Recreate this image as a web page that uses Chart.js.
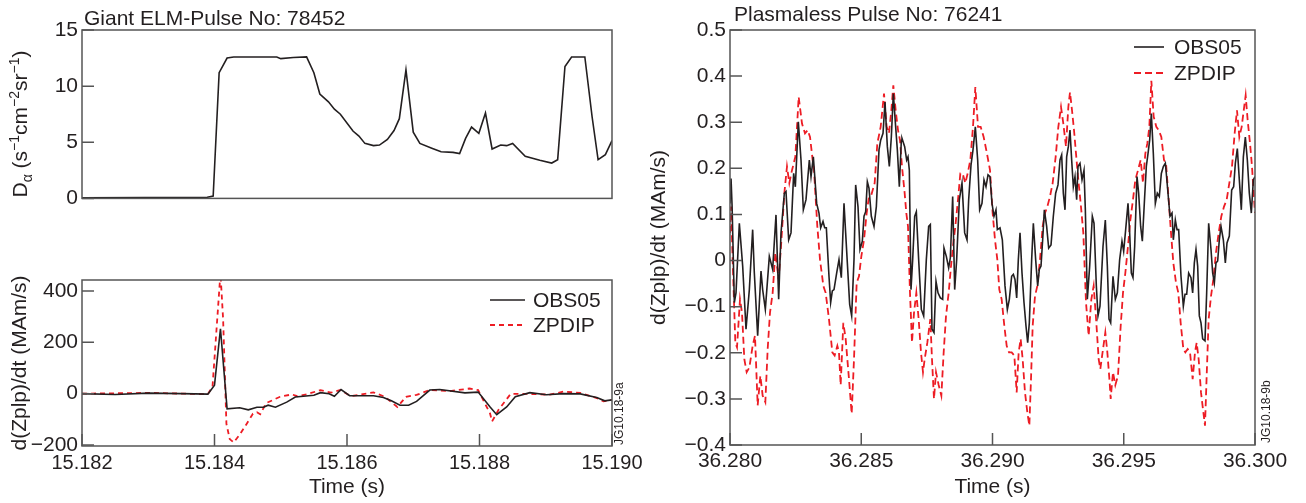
<!DOCTYPE html>
<html>
<head>
<meta charset="utf-8">
<script src="https://cdn.jsdelivr.net/npm/chart.js@4/dist/chart.umd.min.js"></script>
<style>
  html, body { margin: 0; padding: 0; background: #fff; }
  #page { position: relative; width: 1306px; height: 503px; overflow: hidden; }
  canvas { position: absolute; }
</style>
</head>
<body>
<div id="page">
  <canvas id="dalpha" width="640" height="215" style="left:0;top:0"></canvas>
  <canvas id="zplpLeft" width="660" height="253" style="left:0;top:250px"></canvas>
  <canvas id="zplpRight" width="666" height="503" style="left:640px;top:0"></canvas>
</div>
<script>
// --- Giant ELM, pulse 78452: D-alpha (top left)
const dalphaTime = [15.182, 15.18389, 15.18398, 15.18407, 15.18419, 15.18429, 15.18494, 15.185, 15.18519, 15.18539,
  15.1855, 15.18559, 15.18572, 15.18581, 15.1859, 15.18609, 15.18618, 15.18627, 15.1864, 15.18649,
  15.18661, 15.18671, 15.18679, 15.18689, 15.187, 15.1871, 15.18729, 15.18742, 15.1876, 15.1877,
  15.18779, 15.18788, 15.18799, 15.18809, 15.18819, 15.18832, 15.18841, 15.1885, 15.18869, 15.18891,
  15.18909, 15.18918, 15.18929, 15.18939, 15.18959, 15.1897, 15.18979, 15.1899, 15.19];
const dalphaValue = [0.05, 0.1, 0.2, 11.2, 12.5, 12.6, 12.6, 12.45, 12.55, 12.6,
  11.2, 9.3, 8.6, 7.95, 7.5, 6.0, 5.55, 4.9, 4.7, 4.75,
  5.25, 6.05, 7.1, 11.45, 5.9, 4.9, 4.45, 4.15, 4.1, 4.0,
  5.35, 6.35, 5.8, 7.6, 4.4, 4.75, 4.7, 4.9, 3.75, 3.4,
  3.15, 3.45, 11.75, 12.6, 12.6, 7.25, 3.45, 3.9, 5.15];

// --- Giant ELM: d(Zplp)/dt (bottom left)
const leftObsTime = [15.182, 15.1825, 15.183, 15.1835, 15.1839, 15.184, 15.18409, 15.18419, 15.18438, 15.18451,
  15.18464, 15.18474, 15.18481, 15.18492, 15.18509, 15.18522, 15.1855, 15.1856, 15.18573, 15.18581,
  15.18591, 15.18604, 15.1864, 15.18655, 15.18667, 15.1868, 15.18693, 15.18705, 15.18725, 15.1874,
  15.18778, 15.18798, 15.18816, 15.18826, 15.18841, 15.18854, 15.18876, 15.18901, 15.18927, 15.18952,
  15.18977, 15.18989, 15.19];
const leftObsValue = [0, -3, 2, 0, -2, 33, 253, -59, -55, -63,
  -53, -53, -45, -53, -33, -13, -6, 4, 0, -10,
  16, -8, -8, -15, -28, -45, -45, -30, 14, 16,
  3, 6, -52, -82, -52, -12, 4, -4, 0, -1,
  -15, -28, -24];
const leftZpdTime = [15.182, 15.183, 15.1839, 15.18397, 15.18409, 15.18413, 15.18418, 15.18423, 15.18429, 15.18438,
  15.18448, 15.18458, 15.18464, 15.18469, 15.18478, 15.18499, 15.18517, 15.18525, 15.1854, 15.1856,
  15.18576, 15.1859, 15.18606, 15.1864, 15.18657, 15.18676, 15.18689, 15.18705, 15.18725, 15.18755,
  15.18785, 15.18798, 15.18816, 15.18819, 15.18829, 15.18847, 15.18876, 15.18906, 15.18927, 15.18952,
  15.18977, 15.18987, 15.19];
const leftZpdValue = [0, 3, -2, 27, 470, 290, -118, -177, -190, -160,
  -120, -78, -72, -80, -37, -12, -3, -10, -2, 14,
  4, 14, -10, 5, -12, -52, -12, -5, 14, 10,
  20, 14, -78, -108, -62, -1, -1, -4, 8, 3,
  -17, -30, -24];

// --- Plasmaless pulse 76241 (right), time in ms after 36.280 s
const rightObsMs = [
  0, 0.04, 0.08, 0.165, 0.229, 0.356, 0.483, 0.61, 0.737, 0.863, 0.927, 1.054, 1.181, 1.244, 1.346, 1.498, 1.625, 1.752, 1.854, 1.943, 2.07, 2.133, 2.235, 2.324, 2.425, 2.489, 2.603, 2.705, 2.794, 2.895, 3.022, 3.086, 3.175,
  3.302, 3.39, 3.454, 3.543, 3.606, 3.67, 3.771, 3.835, 3.898, 3.962, 4.063, 4.152, 4.241, 4.343, 4.406, 4.47, 4.559, 4.635, 4.724, 4.787, 4.876, 4.952, 5.041, 5.105, 5.168, 5.232, 5.295, 5.384, 5.486, 5.575, 5.676, 5.74, 5.829, 5.905, 5.994, 6.07, 6.146, 6.222, 6.311, 6.375, 6.451, 6.527,
  6.552, 6.654, 6.73, 6.781, 6.832, 6.895, 6.959, 7.035, 7.098, 7.187, 7.289, 7.378, 7.479, 7.568, 7.632, 7.695, 7.771, 7.848, 7.924, 8.013, 8.102, 8.152, 8.241, 8.33, 8.394, 8.483, 8.559, 8.635, 8.737, 8.838, 8.94, 9.029, 9.092, 9.181, 9.257, 9.346, 9.435, 9.511, 9.6, 9.676, 9.752, 9.829,
  9.905, 9.981, 10.057, 10.133, 10.184, 10.286, 10.375, 10.476, 10.565, 10.641, 10.73, 10.794, 10.857, 10.921, 10.984, 11.048, 11.124, 11.2, 11.276, 11.34, 11.403, 11.492, 11.556, 11.644, 11.721, 11.784, 11.848, 11.911, 11.975, 12.063, 12.14, 12.229, 12.317, 12.406, 12.495, 12.571, 12.635, 12.698, 12.762, 12.825, 12.889, 12.952, 13.016, 13.079, 13.143, 13.206,
  13.257, 13.333, 13.41, 13.486, 13.537, 13.613, 13.702, 13.803, 13.867, 13.956, 14.019, 14.095, 14.21, 14.298, 14.375, 14.438, 14.502, 14.59, 14.679, 14.756, 14.844, 14.933, 14.997, 15.073, 15.162, 15.225, 15.289, 15.352, 15.416, 15.505, 15.568, 15.644, 15.708, 15.797, 15.86, 15.924, 15.987, 16.051, 16.127, 16.203, 16.279, 16.355, 16.432, 16.508, 16.584,
  16.61, 16.686, 16.762, 16.838, 16.889, 16.965, 17.029, 17.092, 17.181, 17.27, 17.333, 17.397, 17.473, 17.562, 17.625, 17.689, 17.752, 17.816, 17.879, 17.943, 18.006, 18.095, 18.159, 18.235, 18.324, 18.387, 18.451, 18.514, 18.578, 18.641, 18.705, 18.794, 18.87, 18.933, 19.022, 19.111, 19.187, 19.251, 19.327, 19.403, 19.479, 19.556, 19.632, 19.708, 19.784, 19.86, 19.937, 20];
const rightObsValue = [
  0.124, 0.178, 0.117, -0.091, -0.07, 0.081, -0.012, -0.149, -0.063, 0.067, -0.027, -0.163, -0.023, -0.063, -0.106, 0.009, -0.019, 0.099, -0.084, 0.06, 0.146, 0.15, 0.045, 0.06, 0.189, 0.16, 0.301, 0.218, 0.11, 0.132, 0.218, 0.182, 0.225,
  0.124, 0.103, 0.071, 0.085, 0.071, 0.071, -0.034, -0.091, -0.066, -0.063, -0.027, 0.002, -0.037, 0.124, 0.06, -0.005, -0.095, -0.12, 0.002, 0.164, 0.117, 0.024, 0.042, 0.096, 0.106, 0.171, 0.157, 0.096, 0.074, 0.117, 0.24, 0.261, 0.276, 0.344, 0.247, 0.204, 0.268, 0.362, 0.29, 0.24, 0.16, 0.261,
  0.265, 0.247, 0.218, 0.225, 0.196, -0.063, 0.002, 0.096, 0.106, 0.002, -0.106, -0.12, 0.002, 0.074, 0.078, -0.149, -0.156, -0.045, -0.07, -0.081, -0.084, 0.027, 0.009, -0.016, 0.006, 0.139, -0.063, 0.002, 0.132, 0.168, 0.06, 0.045, 0.132, 0.207, 0.24, 0.29, 0.218, 0.11, 0.124, 0.175, 0.16, 0.186,
  0.182, 0.124, 0.096, 0.11, 0.067, 0.071, 0.045, -0.055, -0.106, -0.084, -0.034, -0.03, -0.041, -0.081, 0.002, 0.06, -0.027, -0.091, -0.142, -0.178, -0.135, 0.002, 0.081, 0.002, -0.055, -0.019, -0.012, 0.045, 0.11, 0.074, 0.027, 0.034, 0.096, 0.146, 0.164, 0.218, 0.229, 0.146, 0.11, 0.225, 0.247, 0.283, 0.218, 0.16, 0.182, 0.132,
  0.204, 0.211, 0.175, 0.196, 0.11, -0.084, -0.012, 0.096, 0.081, -0.055, -0.12, -0.099, 0.031, 0.088, -0.012, -0.127, -0.135, -0.034, -0.084, -0.07, 0.002, 0.042, 0.02, 0.067, 0.124, 0.06, -0.027, -0.037, 0.031, 0.182, 0.146, 0.074, 0.042, 0.139, 0.204, 0.232, 0.261, 0.319, 0.232, 0.124, 0.146, 0.139, 0.189, 0.204, 0.211,
  0.196, 0.146, 0.096, 0.103, 0.045, 0.088, 0.067, 0.067, -0.034, -0.099, -0.073, -0.073, -0.027, -0.037, -0.07, -0.005, 0.024, -0.012, -0.12, -0.135, -0.17, -0.174, -0.07, 0.081, 0.024, -0.027, -0.048, -0.005, -0.001, 0.045, 0.074, 0.045, -0.005, 0.038, 0.053, 0.153, 0.16, 0.211, 0.243, 0.175, 0.11, 0.225, 0.268, 0.218, 0.146, 0.103, 0.175, 0.182];
const rightZpdMs = [
  0, 0.04, 0.102, 0.203, 0.267, 0.381, 0.457, 0.546, 0.635, 0.737, 0.863, 0.952, 1.054, 1.156, 1.244, 1.346, 1.435, 1.524, 1.625, 1.727, 1.854, 1.943, 2.07, 2.171, 2.26, 2.362, 2.489, 2.616, 2.743, 2.857, 2.959, 3.048, 3.149,
  3.2, 3.327, 3.429, 3.556, 3.644, 3.771, 3.898, 3.987, 4.089, 4.152, 4.216, 4.317, 4.406, 4.533, 4.635, 4.724, 4.825, 4.914, 5.003, 5.105, 5.206, 5.295, 5.384, 5.511, 5.613, 5.74, 5.867, 5.968, 6.057, 6.146, 6.222, 6.311, 6.4, 6.476,
  6.552, 6.654, 6.717, 6.781, 6.857, 6.933, 7.01, 7.098, 7.187, 7.276, 7.352, 7.416, 7.517, 7.632, 7.695, 7.771, 7.848, 7.949, 8.051, 8.14, 8.229, 8.33, 8.419, 8.495, 8.584, 8.686, 8.775, 8.863, 8.965, 9.054, 9.156, 9.257, 9.346, 9.448, 9.549, 9.663, 9.79,
  9.905, 10.006, 10.095, 10.184, 10.26, 10.349, 10.451, 10.54, 10.629, 10.73, 10.832, 10.921, 10.997, 11.073, 11.149, 11.238, 11.327, 11.403, 11.467, 11.53, 11.619, 11.708, 11.81, 11.911, 12, 12.089, 12.19, 12.292, 12.406, 12.508, 12.61, 12.698, 12.8, 12.889, 12.952, 13.029, 13.105, 13.181,
  13.257, 13.359, 13.46, 13.562, 13.663, 13.765, 13.854, 13.956, 14.044, 14.108, 14.21, 14.298, 14.375, 14.463, 14.502, 14.59, 14.679, 14.781, 14.883, 14.971, 15.06, 15.162, 15.251, 15.352, 15.441, 15.543, 15.644, 15.733, 15.822, 15.898, 15.975, 16.051, 16.14, 16.241, 16.33, 16.432, 16.533,
  16.61, 16.711, 16.8, 16.889, 16.99, 17.079, 17.168, 17.27, 17.346, 17.435, 17.524, 17.625, 17.714, 17.778, 17.854, 17.943, 18.032, 18.095, 18.159, 18.235, 18.324, 18.413, 18.514, 18.616, 18.717, 18.819, 18.921, 19.022, 19.124, 19.225, 19.314, 19.403, 19.492, 19.556, 19.644, 19.721, 19.81, 19.886, 19.949, 20];
const rightZpdValue = [
  0.06, 0.117, 0, -0.178, -0.188, -0.084, -0.113, -0.214, -0.242, -0.232, -0.185, -0.163, -0.314, -0.25, -0.293, -0.307, -0.192, -0.113, -0.07, 0.017, -0.041, 0.031, 0.146, 0.204, 0.168, 0.196, 0.225, 0.355, 0.297, 0.276, 0.283, 0.268, 0.218,
  0.196, 0.074, 0.002, -0.055, -0.07, -0.127, -0.199, -0.206, -0.185, -0.199, -0.27, -0.135, -0.17, -0.257, -0.332, -0.214, -0.048, -0.034, 0.009, 0.045, 0.103, 0.139, 0.142, 0.168, 0.254, 0.29, 0.362, 0.29, 0.276, 0.326, 0.38, 0.326, 0.283, 0.261,
  0.204, 0.146, 0.103, 0.074, -0.07, -0.178, -0.113, -0.07, -0.127, -0.199, -0.242, -0.214, -0.178, -0.127, -0.214, -0.3, -0.242, -0.27, -0.293, -0.199, -0.12, -0.07, -0.012, 0.031, 0.074, 0.132, 0.189, 0.189, 0.168, 0.189, 0.218, 0.29, 0.376, 0.29, 0.29, 0.268, 0.232,
  0.196, 0.103, 0.045, 0.002, -0.063, -0.084, -0.142, -0.185, -0.199, -0.199, -0.206, -0.286, -0.199, -0.17, -0.214, -0.286, -0.329, -0.358, -0.257, -0.142, -0.077, -0.055, 0.002, 0.074, 0.103, 0.117, 0.139, 0.168, 0.225, 0.29, 0.333, 0.297, 0.247, 0.333, 0.365, 0.326, 0.283, 0.232,
  0.182, 0.124, 0.06, -0.091, -0.163, -0.084, -0.055, -0.135, -0.214, -0.235, -0.192, -0.156, -0.199, -0.264, -0.3, -0.242, -0.27, -0.25, -0.142, -0.07, -0.027, 0.031, 0.088, 0.132, 0.175, 0.196, 0.218, 0.168, 0.232, 0.254, 0.29, 0.39, 0.312, 0.29, 0.283, 0.268, 0.218,
  0.211, 0.132, 0.06, -0.005, -0.048, -0.07, -0.135, -0.192, -0.199, -0.192, -0.199, -0.257, -0.199, -0.178, -0.214, -0.286, -0.329, -0.358, -0.25, -0.127, -0.077, -0.041, 0.017, 0.06, 0.096, 0.117, 0.132, 0.168, 0.204, 0.276, 0.326, 0.268, 0.29, 0.319, 0.358, 0.304, 0.254, 0.204, 0.146, 0.103];

// tick labels
const leftTimeTicks = [15.182, 15.184, 15.186, 15.188, 15.190];
const dalphaTicks = [0, 5, 10, 15];
const leftRateTicks = [-200, 0, 200, 400];
const rightTimeTicks = [36.280, 36.285, 36.290, 36.295, 36.300];
const rightRateTicks = [-0.4, -0.3, -0.2, -0.1, 0, 0.1, 0.2, 0.3, 0.4, 0.5];

const FONT = '"Liberation Sans", Arial, Helvetica, sans-serif';
const INK = '#231f20';
const RED = '#ed1c24';
const FRAME = '#555555';
Chart.defaults.font.family = FONT;
Chart.defaults.color = INK;

const toPts = (xs, ys) => xs.map((x, i) => ({ x: x, y: ys[i] }));
const msToTime = ms => 36.28 + ms / 1000;
const signed = (v, digits) => {
  const s = digits == null ? String(Math.abs(v)) : Math.abs(v).toFixed(digits);
  return v < 0 ? '\u2212' + s : (v === 0 ? '0' : s);
};

// box round the plot + inward tick marks
function frameTicks(withX) {
  return {
    id: 'frameTicks',
    afterDatasetsDraw(chart) {
      const { ctx, chartArea: a, scales } = chart;
      const len = 12;
      ctx.save();
      ctx.strokeStyle = FRAME;
      ctx.lineWidth = 1.5;
      ctx.strokeRect(a.left, a.top, a.right - a.left, a.bottom - a.top);
      ctx.beginPath();
      scales.y.ticks.forEach(t => {
        const y = scales.y.getPixelForValue(t.value);
        ctx.moveTo(a.left, y);
        ctx.lineTo(a.left + len, y);
      });
      if (withX) {
        scales.x.ticks.forEach(t => {
          const x = scales.x.getPixelForValue(t.value);
          ctx.moveTo(x, a.bottom);
          ctx.lineTo(x, a.bottom - len);
        });
      }
      ctx.stroke();
      ctx.restore();
    }
  };
}

// legend with line samples drawn inside the plot
function lineLegend(cfg) {
  return {
    id: 'lineLegend',
    afterDraw(chart) {
      const ctx = chart.ctx;
      ctx.save();
      ctx.font = cfg.size + 'px ' + FONT;
      ctx.textBaseline = 'middle';
      chart.data.datasets.forEach((ds, i) => {
        const y = cfg.y + i * cfg.gap;
        ctx.strokeStyle = ds.borderColor;
        ctx.lineWidth = ds.borderWidth;
        ctx.setLineDash(ds.borderDash || []);
        ctx.beginPath();
        ctx.moveTo(cfg.x, y);
        ctx.lineTo(cfg.x + cfg.len, y);
        ctx.stroke();
        ctx.setLineDash([]);
        ctx.fillStyle = INK;
        ctx.fillText(ds.label, cfg.x + cfg.len + cfg.space, y + 1);
      });
      ctx.restore();
    }
  };
}

// free text: titles, figure codes, rich axis title
function notes(items) {
  return {
    id: 'notes',
    afterDraw(chart) {
      const ctx = chart.ctx;
      items.forEach(item => {
        const parts = item.parts || [{ t: item.text, size: item.size, dy: 0 }];
        ctx.save();
        ctx.translate(item.x, item.y);
        if (item.rotate) ctx.rotate(-Math.PI / 2);
        ctx.fillStyle = INK;
        ctx.textBaseline = 'alphabetic';
        const widths = parts.map(p => { ctx.font = p.size + 'px ' + FONT; return ctx.measureText(p.t).width; });
        let x = item.center ? -widths.reduce((s, w) => s + w, 0) / 2 : 0;
        parts.forEach((p, i) => {
          ctx.font = p.size + 'px ' + FONT;
          ctx.fillText(p.t, x, p.dy || 0);
          x += widths[i];
        });
        ctx.restore();
      });
    }
  };
}

const fixedTicks = list => s => { s.ticks = list.map(v => ({ value: v })); };
const quiet = { legend: { display: false }, tooltip: { enabled: false } };
const noGrid = { display: false, drawTicks: false };

// top left: D-alpha
new Chart(document.getElementById('dalpha'), {
  type: 'line',
  data: {
    datasets: [{
      label: 'D\u03b1',
      data: toPts(dalphaTime, dalphaValue),
      borderColor: INK, borderWidth: 1.6, pointRadius: 0, tension: 0
    }]
  },
  options: {
    responsive: false, animation: false, events: [],
    layout: { padding: { left: 0, top: 30, right: 28, bottom: 10 } },
    scales: {
      x: { type: 'linear', display: false, min: 15.182, max: 15.190 },
      y: {
        min: 0, max: 15,
        afterBuildTicks: fixedTicks(dalphaTicks),
        afterFit: s => { s.width = 82; },
        grid: noGrid, border: { display: false },
        ticks: { font: { size: 21 }, padding: 4, callback: v => signed(v) }
      }
    },
    plugins: quiet
  },
  plugins: [frameTicks(false), notes([
    { text: 'Giant ELM-Pulse No: 78452', x: 84, y: 25, size: 21 },
    { x: 27, y: 124, rotate: true, center: true, parts: [
      { t: 'D', size: 21 }, { t: '\u03b1', size: 14, dy: 5 }, { t: ' (s', size: 21 },
      { t: '\u22121', size: 14, dy: -8 }, { t: 'cm', size: 21 }, { t: '\u22122', size: 14, dy: -8 },
      { t: 'sr', size: 21 }, { t: '\u22121', size: 14, dy: -8 }, { t: ')', size: 21 }
    ] }
  ])]
});

// bottom left: d(Zplp)/dt during the giant ELM
new Chart(document.getElementById('zplpLeft'), {
  type: 'line',
  data: {
    datasets: [
      { label: 'OBS05', data: toPts(leftObsTime, leftObsValue), borderColor: INK, borderWidth: 1.6, pointRadius: 0, tension: 0 },
      { label: 'ZPDIP', data: toPts(leftZpdTime, leftZpdValue), borderColor: RED, borderWidth: 1.8, borderDash: [5, 4], pointRadius: 0, tension: 0 }
    ]
  },
  options: {
    responsive: false, animation: false, events: [],
    layout: { padding: { left: 0, top: 30, right: 48, bottom: 0 } },
    scales: {
      x: {
        type: 'linear', min: 15.182, max: 15.190,
        afterBuildTicks: fixedTicks(leftTimeTicks),
        afterFit: s => { s.height = 57; },
        grid: noGrid, border: { display: false },
        ticks: { font: { size: 20 }, padding: 5, maxRotation: 0, autoSkip: false, callback: v => v.toFixed(3) },
        title: { display: true, text: 'Time (s)', font: { size: 21 }, padding: { top: 0, bottom: 3 } }
      },
      y: {
        min: -204, max: 443,
        afterBuildTicks: fixedTicks(leftRateTicks),
        afterFit: s => { s.width = 82; },
        grid: noGrid, border: { display: false },
        ticks: { font: { size: 21 }, padding: 4, callback: v => signed(v) },
        title: { display: true, text: 'd(Zplp)/dt (MAm/s)', font: { size: 21 }, padding: { top: 8, bottom: 0 } }
      }
    },
    plugins: quiet
  },
  plugins: [frameTicks(true), lineLegend({ x: 490, y: 50, gap: 25, len: 35, space: 8, size: 21 }), notes([
    { text: 'JG10.18-9a', x: 623, y: 195, size: 12, rotate: true }
  ])]
});

// right: plasmaless pulse
new Chart(document.getElementById('zplpRight'), {
  type: 'line',
  data: {
    datasets: [
      { label: 'OBS05', data: toPts(rightObsMs.map(msToTime), rightObsValue), borderColor: INK, borderWidth: 1.6, pointRadius: 0, tension: 0 },
      { label: 'ZPDIP', data: toPts(rightZpdMs.map(msToTime), rightZpdValue), borderColor: RED, borderWidth: 1.8, borderDash: [7, 4], pointRadius: 0, tension: 0 }
    ]
  },
  options: {
    responsive: false, animation: false, events: [],
    layout: { padding: { left: 0, top: 30, right: 51, bottom: 0 } },
    scales: {
      x: {
        type: 'linear', min: 36.280, max: 36.300,
        afterBuildTicks: fixedTicks(rightTimeTicks),
        afterFit: s => { s.height = 58; },
        grid: noGrid, border: { display: false },
        ticks: { font: { size: 21 }, padding: 4, maxRotation: 0, autoSkip: false, callback: v => v.toFixed(3) },
        title: { display: true, text: 'Time (s)', font: { size: 21 }, padding: { top: 0, bottom: 3 } }
      },
      y: {
        min: -0.4, max: 0.5,
        afterBuildTicks: fixedTicks(rightRateTicks),
        afterFit: s => { s.width = 90; },
        grid: noGrid, border: { display: false },
        ticks: { font: { size: 21 }, padding: 4, callback: v => signed(v, 1) },
        title: { display: true, text: 'd(Zplp)/dt (MAm/s)', font: { size: 21 }, padding: { top: 7, bottom: 0 } }
      }
    },
    plugins: quiet
  },
  plugins: [frameTicks(true), lineLegend({ x: 494, y: 47, gap: 26, len: 30, space: 10, size: 21 }), notes([
    { text: 'Plasmaless Pulse No: 76241', x: 94, y: 21, size: 21 },
    { text: 'JG10.18-9b', x: 630, y: 443, size: 12, rotate: true }
  ])]
});
</script>
</body>
</html>
